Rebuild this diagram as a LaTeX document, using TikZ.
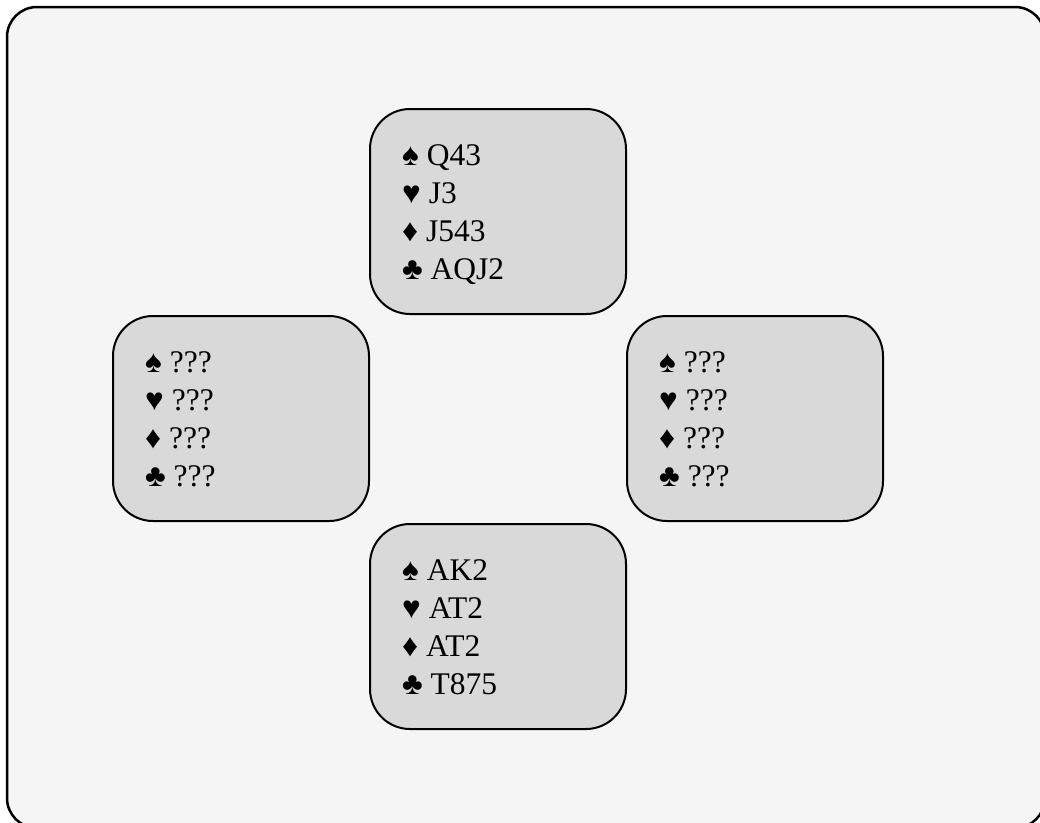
\documentclass[tikz,border=0pt]{standalone}
\usepackage{fontspec}
\setmainfont{Liberation Serif}
\definecolor{bgc}{HTML}{F5F5F5}
\definecolor{boxc}{HTML}{D9D9D9}
\tikzset{
  handbox/.style={draw=black, line width=2pt, fill=boxc, rounded corners=40pt, minimum width=256pt, minimum height=205pt, inner sep=0pt, anchor=north west},
  handline/.style={anchor=base west, inner sep=0pt, font=\fontsize{31.5}{38}\selectfont}
}
\newcommand\handat[6]{%
  \node[handbox] (#1) at (#2,#3) {};
  \node[handline] (#1s) at ([xshift=33pt,yshift=-57pt]#1.north west) {♠ #4};
  \node[handline] (#1h) at ([yshift=-38.3pt]#1s.base west) {♥ #5};
  \node[handline] (#1d) at ([yshift=-38.3pt]#1h.base west) {♦ #6};
}
\begin{document}
\begin{tikzpicture}[x=1pt,y=-1pt]
\useasboundingbox (0,0) rectangle (1040,822);
\draw[line width=2.5pt, fill=bgc, rounded corners=30pt] (7,7) rectangle (1045,828);
\handat{N}{369}{108}{Q43}{J3}{J543}
\node[handline] (Nc) at ([yshift=-38.3pt]Nd.base west) {♣ AQJ2};
\handat{W}{112}{315}{???}{???}{???}
\node[handline] (Wc) at ([yshift=-38.3pt]Wd.base west) {♣ ???};
\handat{E}{626}{315}{???}{???}{???}
\node[handline] (Ec) at ([yshift=-38.3pt]Ed.base west) {♣ ???};
\handat{S}{369}{523}{AK2}{AT2}{AT2}
\node[handline] (Sc) at ([yshift=-38.3pt]Sd.base west) {♣ T875};
\end{tikzpicture}
\end{document}
